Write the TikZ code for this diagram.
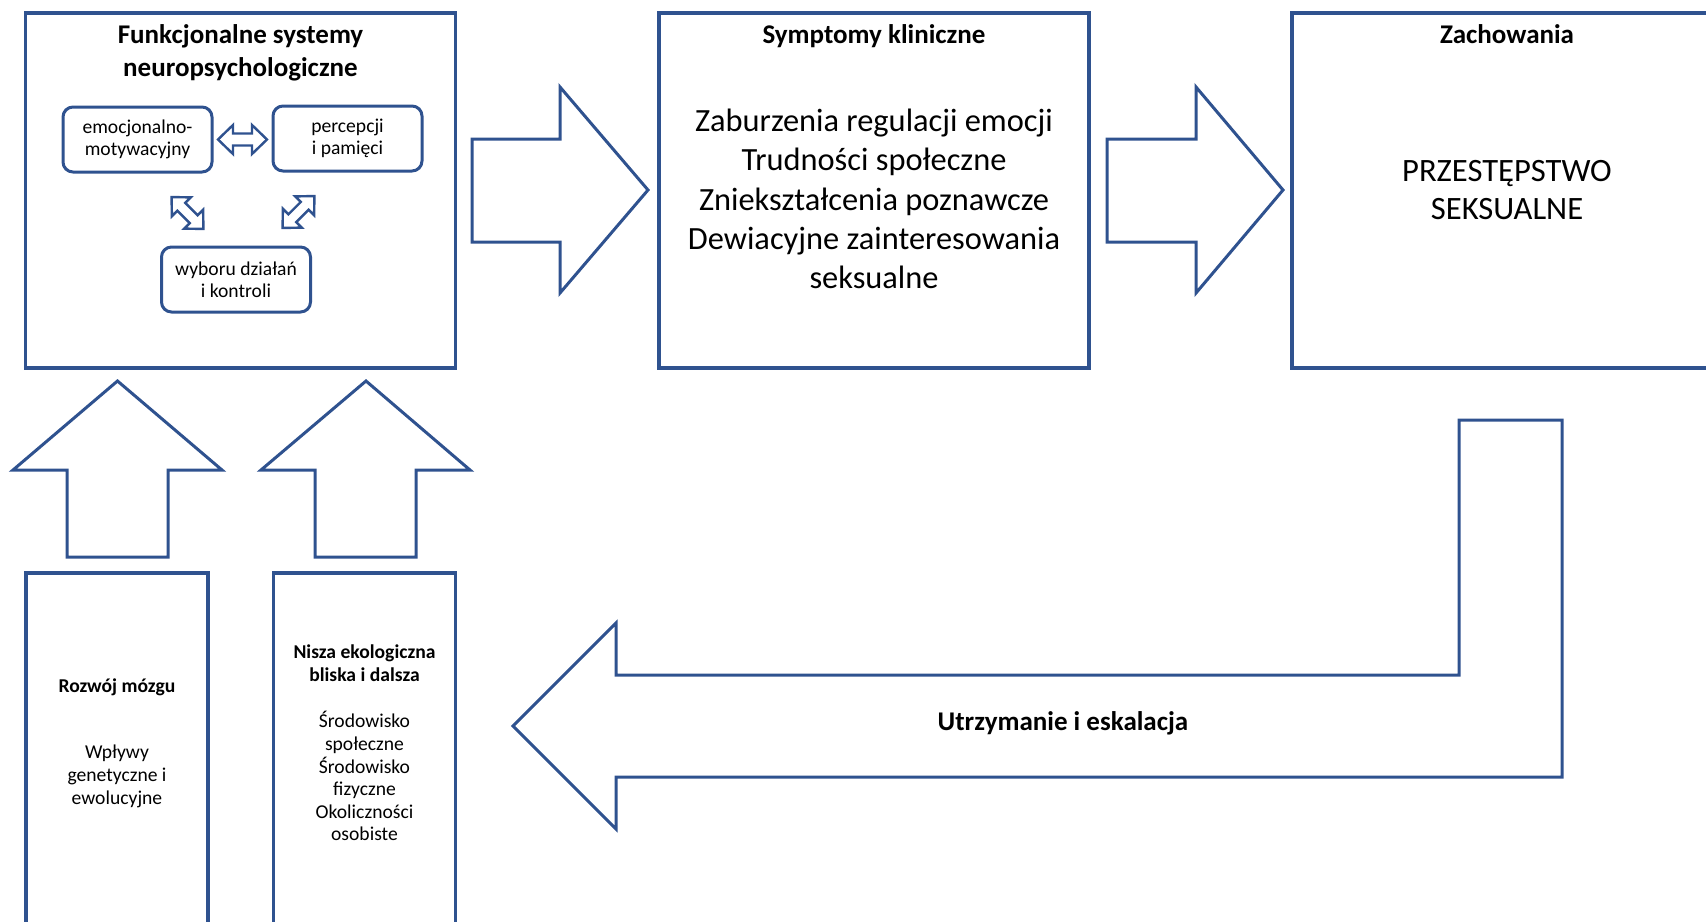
\documentclass[tikz,border=0pt]{standalone}
\usepackage{fontspec}
\setmainfont{Carlito}
\usepackage{xcolor}
\usetikzlibrary{positioning}
\definecolor{frameblue}{HTML}{2F528F}

\tikzset{
    twoway/.pic={
        \draw[smallarrow] (-24.5,0) -- (-9.5,-14.5) -- (-9.5,-6) -- (9.5,-6) -- (9.5,-14.5)
            -- (24.5,0) -- (9.5,14.5) -- (9.5,6) -- (-9.5,6) -- (-9.5,14.5) -- cycle;
    }
}

\begin{document}
\begin{tikzpicture}[
    x=0.5pt, y=-0.5pt,
    bigbox/.style={rectangle, draw=frameblue, line width=1.75pt, minimum width=215pt, minimum height=177.5pt, inner sep=0pt},
    subbox/.style={rectangle, draw=frameblue, line width=1.5pt, rounded corners=5pt, minimum width=74.5pt, minimum height=32.5pt, align=center, inner sep=0pt, font=\fontsize{9.8}{11}\selectfont},
    basebox/.style={rectangle, draw=frameblue, line width=1.75pt, minimum width=91pt, minimum height=200pt, anchor=north, inner sep=0pt},
    heading/.style={align=center, inner sep=0pt, font=\bfseries\fontsize{13.5}{16.4}\selectfont},
    bodytext/.style={align=center, inner sep=0pt, font=\fontsize{16.2}{19.6}\selectfont},
    basetext/.style={align=center, inner sep=0pt, font=\fontsize{9.8}{11.3}\selectfont},
    blockarrow/.style={draw=frameblue, line width=1.5pt, line join=miter},
    smallarrow/.style={draw=frameblue, line width=1.2pt, line join=miter}
]
\clip (0,0) rectangle (1706,921);

% main boxes
\node [bigbox] (funk) at (240.5,190.5) {};
\node [bigbox] (symp) at (874,190.5) {};
\node [bigbox] (zach) at (1507,190.5) {};

\node [heading, below=6.5pt of funk.north] (funkT) {Funkcjonalne systemy\\neuropsychologiczne};
\node [heading, below=6.5pt of symp.north] (sympT) {Symptomy kliniczne};
\node [heading, below=6.5pt of zach.north] (zachT) {Zachowania};

\node [bodytext] (sympB) at (874,199) {Zaburzenia regulacji emocji\\Trudności społeczne\\Zniekształcenia poznawcze\\Dewiacyjne zainteresowania\\seksualne};
\node [bodytext, font=\fontsize{16.3}{19}\selectfont] (zachB) at (1507,190) {PRZESTĘPSTWO\\SEKSUALNE};

% three systems
\node [subbox] (emo) at (137.5,139.5) {emocjonalno-\\motywacyjny};
\node [subbox] (perc) at (347.5,138.5) {percepcji\\i pamięci};
\node [subbox] (wyb) at (236,279.5) {wyboru działań\\i kontroli};

\pic at (242.5,139.5) {twoway};
\pic [scale=0.92, rotate=-45] at (187.5,213) {twoway};
\pic [scale=0.92, rotate=45] at (298.5,212) {twoway};

% lower boxes
\node [basebox] (mozg) at (117,571) {};
\node [basebox] (nisza) at (364.5,571) {};

\node [basetext] (mozgT) at (117,743) {\textbf{Rozwój mózgu}\\[22pt]Wpływy\\genetyczne i\\ewolucyjne};
\node [basetext] (niszaT) at (364.5,743) {\textbf{Nisza ekologiczna}\\\textbf{bliska i dalsza}\\[12pt]Środowisko\\społeczne\\Środowisko\\fizyczne\\Okoliczności\\osobiste};

% block arrows
\draw [blockarrow] (472,139) -- (560,139) -- (560,87) -- (648,190) -- (560,293) -- (560,242) -- (472,242) -- cycle;
\draw [blockarrow] (1107,139) -- (1196,139) -- (1196,87) -- (1283,190) -- (1196,293) -- (1196,242) -- (1107,242) -- cycle;
\draw [blockarrow] (67,557) -- (67,470) -- (13,470) -- (117.5,381) -- (222,470) -- (168,470) -- (168,557) -- cycle;
\draw [blockarrow] (315,557) -- (315,470) -- (261,470) -- (366,381) -- (470,470) -- (416,470) -- (416,557) -- cycle;

% feedback
\draw [blockarrow] (1459,420) -- (1562,420) -- (1562,777) -- (616,777) -- (616,829) -- (513,726)
    -- (616,623) -- (616,675) -- (1459,675) -- cycle;
\node [heading] (loop) at (1063,723) {Utrzymanie i eskalacja};

\end{tikzpicture}
\end{document}
